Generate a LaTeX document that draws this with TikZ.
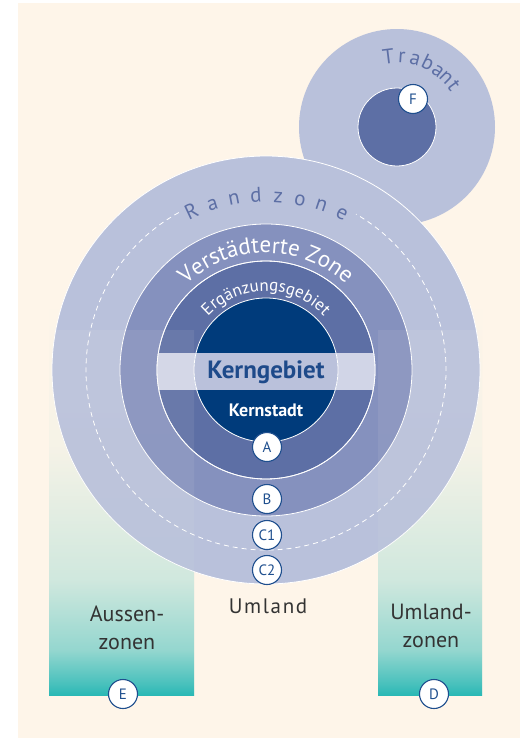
\documentclass[tikz,border=0pt]{standalone}
\usepackage{fontspec}
\setmainfont{PT Sans}
\usetikzlibrary{calc,decorations.text}

\definecolor{cream}{HTML}{FEF5E9}
\definecolor{randblue}{HTML}{B9C1DB}
\definecolor{zoneblue}{HTML}{8591BE}
\definecolor{ergblue}{HTML}{5D6FA5}
\definecolor{kernblue}{HTML}{003B7B}
\definecolor{bandlight}{HTML}{D1D5E7}
\definecolor{bandmid}{HTML}{BAC1DB}
\definecolor{labelblue}{HTML}{1E4A8A}
\definecolor{markblue}{HTML}{1F4F8E}
\definecolor{zoneteal}{HTML}{2AB8B5}
\definecolor{textgray}{HTML}{333333}

\pgfdeclareverticalshading{zonefade}{100bp}{color(0bp)=(zoneteal); color(25bp)=(zoneteal); color(26.5bp)=(zoneteal!85!cream); color(30.7bp)=(zoneteal!50!cream); color(39.5bp)=(zoneteal!22!cream); color(56.5bp)=(zoneteal!4!cream); color(75bp)=(cream); color(100bp)=(cream)}

\begin{document}
\begin{tikzpicture}[x=1pt,y=1pt,
  ring/.style={draw=white, line width=0.8pt},
  marker/.style={circle, draw=markblue, fill=white, line width=1.1pt, minimum size=29pt, inner sep=0pt, text=markblue, font=\fontsize{15}{15}\selectfont},
  arcletter/.style={anchor=base, inner sep=0pt, text=ergblue, font=\fontsize{21}{21}\selectfont},
  zonetext/.style={text=textgray, align=center, font=\fontsize{22}{28}\selectfont}]

% background
\fill[white] (0,0) rectangle (523,-739);
\fill[cream] (18,-3) rectangle (520,-738);
\useasboundingbox (0,0) rectangle (523,-739);

\coordinate (ctr) at (266,-370);
\coordinate (tctr) at (397,-127);

% outer zones
\shade[shading=zonefade] (49,-300) rectangle (194,-695);
\shade[shading=zonefade] (378,-300) rectangle (482,-695);

% Trabant
\fill[randblue] (tctr) circle[radius=98];
\filldraw[fill=ergblue, ring] (tctr) circle[radius=39];

% city rings
\filldraw[fill=randblue, ring] (ctr) circle[radius=214];
\draw[white, dash pattern=on 5pt off 4pt, line width=0.8pt] (ctr) ++(119:180) arc[start angle=119, end angle=420, radius=180];
\filldraw[fill=zoneblue, ring] (ctr) circle[radius=146];
\filldraw[fill=ergblue, ring] (ctr) circle[radius=109];
\begin{scope}
  \clip (ctr) circle[radius=109];
  \fill[bandlight] (49,-353) rectangle (482,-390);
\end{scope}
\fill[kernblue] (ctr) circle[radius=72];
\begin{scope}
  \clip (ctr) circle[radius=72];
  \fill[bandmid] (49,-353) rectangle (482,-390);
\end{scope}
\draw[ring] (ctr) circle[radius=72];
\draw[ring] (ctr) circle[radius=109];

% zones shine through
\shade[shading=zonefade, opacity=0.08] (49,-330) rectangle (194,-695);
\shade[shading=zonefade, opacity=0.08] (378,-330) rectangle (482,-695);

% curved labels
\path[decorate, decoration={text along path, text align=center,
  text={|\color{white}\fontsize{23}{23}\selectfont|Verstädterte Zone}}]
  (ctr) ++(160:117) arc[start angle=160, end angle=20, radius=117];
\path[decorate, decoration={text along path, text align=center,
  text={|\color{white}\fontsize{17}{17}\selectfont|Ergänzungsgebiet}}]
  (ctr) ++(170:79) arc[start angle=170, end angle=10, radius=79];
\foreach \ch [count=\i] in {R,a,n,d,z,o,n,e} {
  \pgfmathsetmacro\ang{115.2-7.3*(\i-1)}
  \node[arcletter, rotate=\ang-90] (rz\i) at ($(ctr)+(\ang:168)$) {\ch};
}
\foreach \ch/\ang [count=\i] in {T/97,r/86,a/75,b/64,a/54,n/45,t/36} {
  \node[arcletter, rotate=\ang-90] (tb\i) at ($(tctr)+(\ang:64)$) {\ch};
}

% labels
\node[text=labelblue, font=\bfseries\fontsize{25}{25}\selectfont] (kerngebiet) at (266,-372) {Kerngebiet};
\node[text=white, font=\bfseries\fontsize{18}{18}\selectfont] (kernstadt) at (266,-410) {Kernstadt};
\node[text=textgray, font=\fontsize{21}{21}\selectfont\addfontfeature{LetterSpace=8}] (umland) at (268,-606) {Umland};
\node[zonetext] (aussen) at (127,-628) {Aussen-\\zonen};
\node[zonetext] (umlandzonen) at (431,-626) {Umland-\\zonen};

% markers
\node[marker] (mA) at (267,-447) {A};
\node[marker] (mB) at (267,-499) {B};
\node[marker] (mC1) at (267,-535) {C1};
\node[marker] (mC2) at (267,-570) {C2};
\node[marker] (mD) at (434,-694) {D};
\node[marker] (mE) at (123,-694) {E};
\node[marker] (mF) at (413,-99) {F};
\end{tikzpicture}
\end{document}
